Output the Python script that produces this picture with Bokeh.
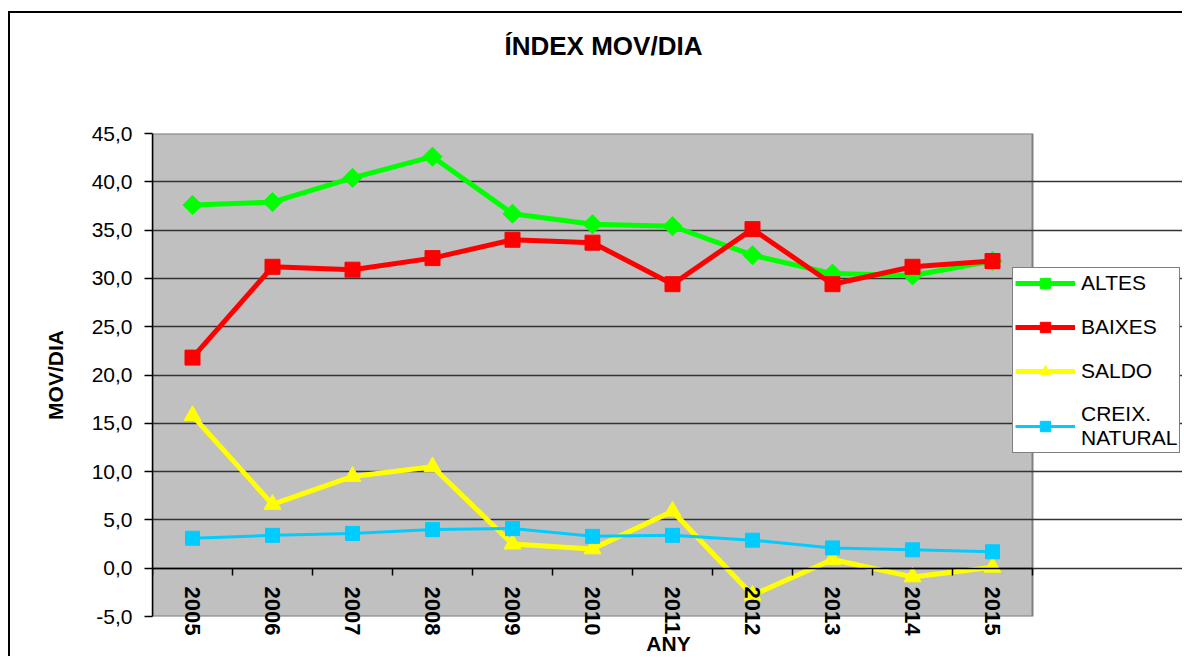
import math
from bokeh.plotting import figure
from bokeh.models import (Range1d, LinearAxis, FixedTicker, Legend, LegendItem)
from bokeh.embed import file_html
from bokeh.resources import INLINE

# ---- data ----
years = [2005, 2006, 2007, 2008, 2009, 2010, 2011, 2012, 2013, 2014, 2015]
year_labels = [str(y) for y in years]
altes = [37.6, 37.9, 40.4, 42.6, 36.7, 35.6, 35.4, 32.4, 30.5, 30.3, 31.8]
baixes = [21.8, 31.2, 30.9, 32.1, 34.0, 33.7, 29.4, 35.1, 29.4, 31.2, 31.8]
saldo = [15.8, 6.6, 9.5, 10.5, 2.5, 2.0, 5.9, -2.8, 0.9, -0.9, 0.1]
creix = [3.1, 3.4, 3.6, 4.0, 4.1, 3.3, 3.4, 2.9, 2.1, 1.9, 1.7]
y_ticks = [-5, 0, 5, 10, 15, 20, 25, 30, 35, 40, 45]

FONT = "Liberation Sans"

# plot area spans the categories; the frame continues to the right edge
# so that the legend can sit across the plot-area border, as in the reference
x_lo = years[0] - 0.5
x_hi = years[-1] + 0.5
PX_PER_YEAR = 80.0
RIGHT_GAP_PX = 152.0

p = figure(width=1174, height=645, output_backend="svg", toolbar_location=None,
           x_range=Range1d(x_lo, x_hi + RIGHT_GAP_PX / PX_PER_YEAR),
           y_range=Range1d(y_ticks[0], y_ticks[-1]),
           x_axis_location=None,
           min_border_left=142, min_border_right=0,
           min_border_top=120, min_border_bottom=38)
p.styles = {"margin-left": "8px", "margin-top": "11px",
            "border-left": "2px solid black", "border-top": "2px solid black"}

p.background_fill_color = "white"
p.border_fill_color = "white"
p.outline_line_color = None

# grey plot area
p.quad(left=[x_lo], right=[x_hi], bottom=[y_ticks[0]], top=[y_ticks[-1]],
       fill_color="#C0C0C0", line_color="#808080", line_width=2, level="image")

# title (two empty trailing lines keep it high above the plot area)
p.title.text = "ÍNDEX MOV/DIA\n\n"
p.title.text_font = FONT
p.title.text_font_style = "bold"
p.title.text_font_size = "26px"
p.title.text_color = "black"
p.title.align = "left"
p.title.offset = 352
p.title.standoff = 26

# y axis
ya = p.yaxis[0]
ya.ticker = FixedTicker(ticks=y_ticks, minor_ticks=[])
ya.major_label_overrides = {t: f"{t:.1f}".replace(".", ",") for t in y_ticks}
ya.major_label_text_font = FONT
ya.major_label_text_font_size = "21px"
ya.major_label_text_color = "black"
ya.major_label_standoff = 12
ya.major_tick_out = 8
ya.major_tick_in = 0
ya.minor_tick_line_color = None
ya.axis_line_color = "black"
ya.axis_line_width = 1.5
ya.major_tick_line_color = "black"
ya.major_tick_line_width = 1.5
ya.axis_label = "MOV/DIA"
ya.axis_label_text_font = FONT
ya.axis_label_text_font_style = "bold"
ya.axis_label_text_font_size = "21px"
ya.axis_label_text_color = "black"
ya.axis_label_standoff = 22

# x axis line crossing at y = 0 (line + boundary ticks only)
x0 = LinearAxis(fixed_location=0, bounds=(x_lo, x_hi))
x0.ticker = FixedTicker(ticks=years,
                        minor_ticks=[y - 0.5 for y in years] + [x_hi])
x0.major_label_text_color = None
x0.major_label_text_font_size = "1px"
x0.major_tick_line_color = None
x0.major_tick_out = 0
x0.major_tick_in = 0
x0.minor_tick_out = 7
x0.minor_tick_in = 0
x0.minor_tick_line_color = "black"
x0.minor_tick_line_width = 1.5
x0.axis_line_color = "black"
x0.axis_line_width = 1.5
p.add_layout(x0, "below")

# x axis labels (pulled up into the plot area, as in the reference)
xa = LinearAxis()
xa.ticker = FixedTicker(ticks=years, minor_ticks=[])
xa.major_label_overrides = dict(zip(years, year_labels))
xa.major_label_orientation = -math.pi / 2
xa.major_label_text_font = FONT
xa.major_label_text_font_style = "bold"
xa.major_label_text_font_size = "22px"
xa.major_label_text_color = "black"
xa.major_label_standoff = -30
xa.major_tick_out = 0
xa.major_tick_in = 0
xa.major_tick_line_color = None
xa.minor_tick_line_color = None
xa.axis_line_color = None
xa.axis_label = "ANY"
xa.axis_label_text_font = FONT
xa.axis_label_text_font_style = "bold"
xa.axis_label_text_font_size = "21px"
xa.axis_label_text_color = "black"
xa.axis_label_standoff = -6
p.add_layout(xa, "below")

p.xgrid.grid_line_color = None
p.ygrid.ticker = FixedTicker(ticks=y_ticks[:-1])
p.ygrid.bounds = (x_lo, x_hi)
p.ygrid.grid_line_color = "#333333"
p.ygrid.grid_line_width = 1.3

# series
l1 = p.line(years, altes, line_color="#00FF00", line_width=5)
s1 = p.scatter(years, altes, marker="square", angle=math.pi / 4, size=13.5,
               fill_color="#00FF00", line_color="#00FF00")
l2 = p.line(years, baixes, line_color="#FF0000", line_width=5)
s2 = p.scatter(years, baixes, marker="square", size=15,
               fill_color="#FF0000", line_color="#FF0000")
l3 = p.line(years, saldo, line_color="#FFFF00", line_width=5)
s3 = p.scatter(years, saldo, marker="triangle", size=17,
               fill_color="#FFFF00", line_color="#FFFF00")
l4 = p.line(years, creix, line_color="#00CCFF", line_width=3)
s4 = p.scatter(years, creix, marker="square", size=14,
               fill_color="#00CCFF", line_color="#00CCFF")

legend = Legend(items=[
    LegendItem(label="ALTES", renderers=[l1, s1]),
    LegendItem(label="BAIXES", renderers=[l2, s2]),
    LegendItem(label="SALDO", renderers=[l3, s3]),
    LegendItem(label="CREIX.\nNATURAL", renderers=[l4, s4]),
], location=(860, 163))
legend.label_text_font = FONT
legend.label_text_font_size = "21px"
legend.label_text_color = "black"
legend.glyph_width = 60
legend.glyph_height = 26
legend.spacing = 18
legend.padding = 2
legend.margin = 0
legend.label_standoff = 6
legend.border_line_color = "black"
legend.border_line_width = 1.2
legend.background_fill_color = "white"
legend.background_fill_alpha = 1
p.add_layout(legend, "center")

open("out.html", "w").write(file_html(p, INLINE))
